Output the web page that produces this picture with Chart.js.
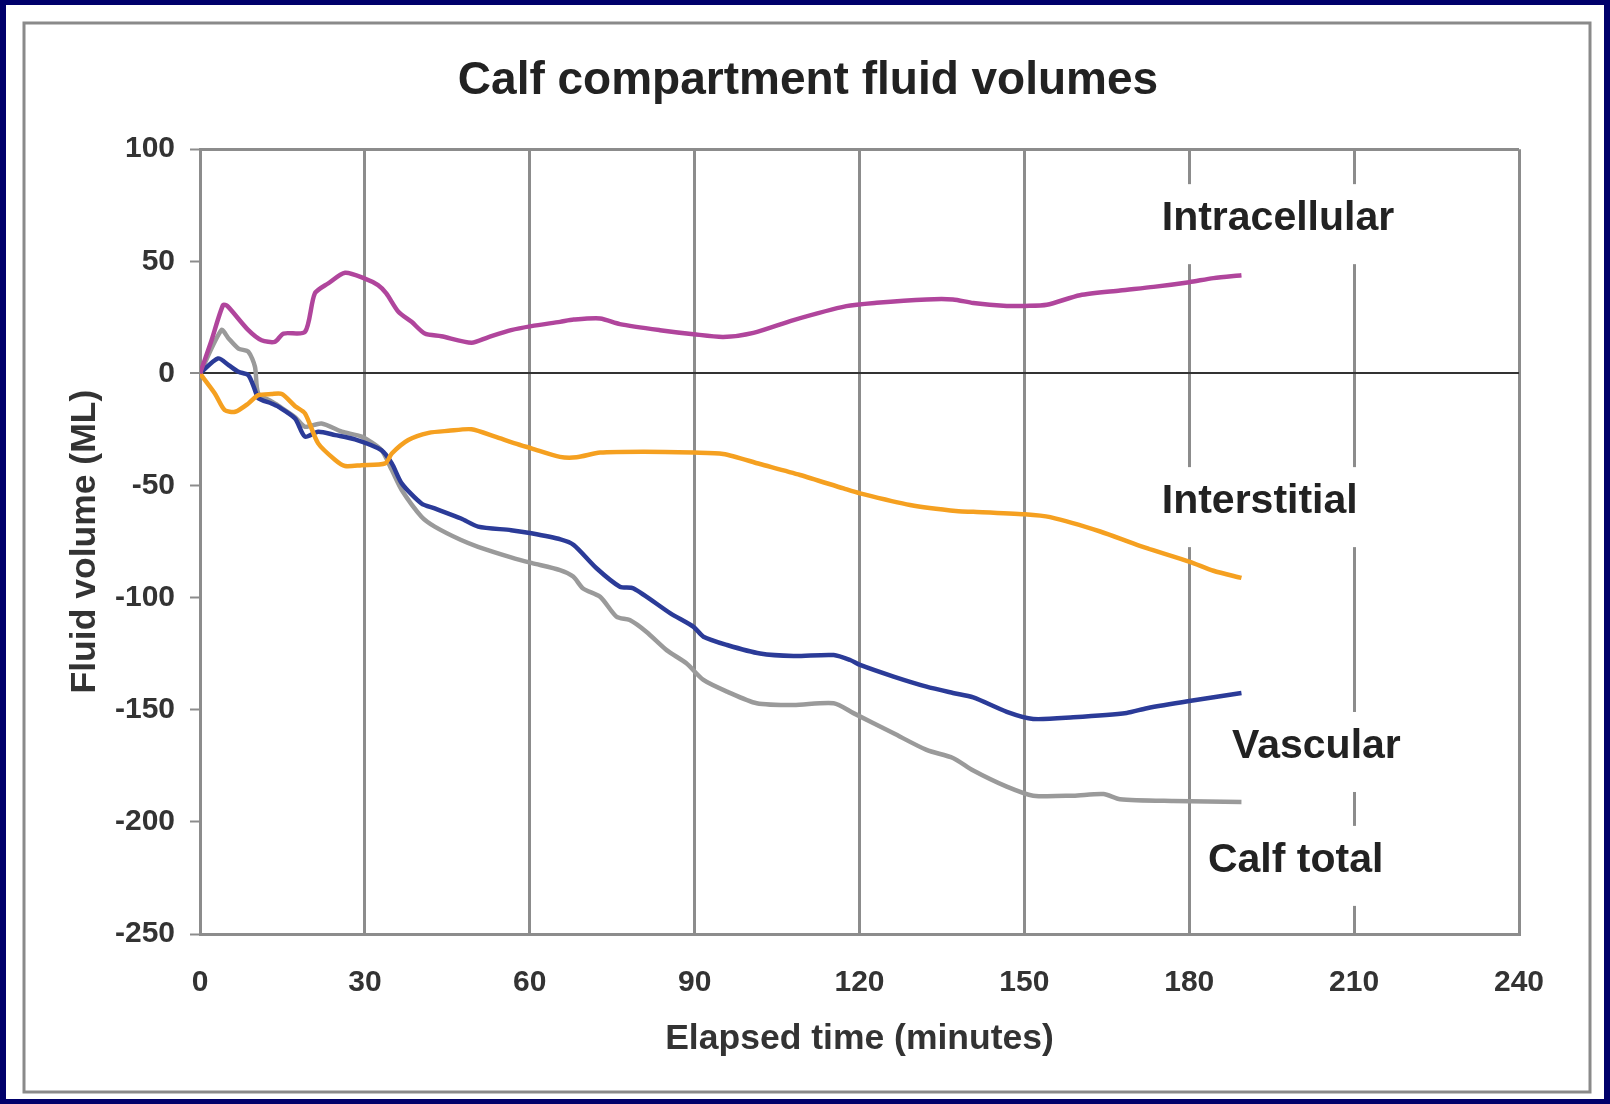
<!DOCTYPE html>
<html>
<head>
<meta charset="utf-8">
<script src="https://cdn.jsdelivr.net/npm/chart.js@4.4.1/dist/chart.umd.min.js"></script>
<style>
  html, body { margin: 0; padding: 0; background: #00006b; overflow: hidden; }
  canvas { display: block; }
</style>
</head>
<body>
<canvas id="myChart" width="1610" height="1104"></canvas>
<script>
const seriesNames = ['Intracellular', 'Interstitial', 'Vascular', 'Calf total'];
const seriesColors = ['#b0459c', '#f5a020', '#2b3b98', '#9a9a9a'];

// elapsed minutes / volume (mL)
const intraTime = [0, 2, 4.2, 5, 8.8, 11.2, 13.6, 15.2, 19.1, 20.9, 23.3, 26.4, 30, 32.4, 33.9, 36.1, 38.5, 40.9, 43.9, 49.4, 52.4, 56.6, 60.3, 65.5, 68, 72.8, 76.4, 83.7, 89.8, 95.2, 100.7, 108, 117.6, 123.1, 132.2, 137, 140.7, 146.8, 150.1, 154.1, 160.1, 167.4, 173.5, 180, 184.4, 189.5];
const intraVol = [0, 14, 30.5, 30, 19.3, 14.8, 14.1, 17.8, 18.5, 35.7, 40.1, 44.9, 42.3, 39.4, 35.7, 27.5, 23, 17.8, 16.6, 13.7, 16.1, 19.3, 21.1, 23, 24, 24.5, 22, 19.3, 17.5, 16.3, 18.1, 23.8, 30, 31.5, 33, 33, 31.4, 30.1, 30.1, 30.6, 34.9, 37, 38.6, 40.7, 42.5, 43.8];

const interTime = [0, 2.7, 4.5, 6.4, 8.8, 10.6, 13, 14.9, 17.3, 19.1, 21.5, 24.6, 26.4, 29.4, 33.7, 34.9, 37.9, 41.6, 45.2, 49.4, 53.7, 57.3, 60.3, 65.5, 68.5, 72.8, 80.7, 89.8, 95.2, 101.9, 109.2, 117.1, 120.1, 129.2, 138, 140.7, 150.1, 154.7, 163.8, 171, 180.1, 184.4, 189.5];
const interVol = [0, -8.9, -16.4, -17.1, -13.4, -9.7, -9.2, -9.2, -14.6, -17.8, -31.2, -38.6, -41.3, -40.9, -40.1, -35.7, -29.7, -26.5, -25.6, -24.9, -28.2, -31.2, -33.4, -37.2, -37.4, -35.3, -34.9, -35.3, -35.9, -40.4, -45.3, -51.3, -53.5, -58.7, -61.5, -61.7, -62.8, -64.1, -70.5, -76.9, -84, -88, -91.2];

const vascTime = [0, 3.3, 5.2, 7, 8.8, 10, 10.6, 13, 14.3, 17.3, 19.1, 21.5, 24.6, 28.2, 33, 34.9, 36.7, 40.3, 42.7, 47.5, 50.6, 56.6, 60.3, 65.6, 68, 72.2, 76.4, 78.9, 85.6, 89.8, 91.6, 95.9, 101.9, 108, 115.3, 118.3, 120.1, 126.2, 132.2, 137, 140.7, 146.8, 151.6, 158.9, 168.6, 172.3, 180, 189.5];
const vascVol = [0, 6.7, 3.7, 0.7, -0.8, -7.4, -11.1, -13.4, -14.9, -20.1, -28.2, -26, -27.5, -29.4, -34.2, -40.1, -49, -58, -60.2, -64.7, -68.3, -69.9, -71.3, -74, -76.5, -87, -95.1, -95.9, -107, -113, -117.4, -121.1, -124.9, -126, -125.6, -127.8, -130, -135.2, -139.7, -142.5, -144.5, -150.9, -154.1, -153.3, -151.4, -149.3, -146.1, -142.5];

const totalTime = [0, 3.9, 5.2, 7, 8.8, 10, 10.6, 13, 14.3, 17.3, 19.1, 22.1, 25.8, 29.4, 33, 34.9, 36.7, 40.3, 42.7, 47.5, 50.6, 56.6, 60.3, 65.5, 67.9, 69.7, 72.8, 75.8, 78.2, 81.2, 84.9, 88.5, 91.6, 95.9, 101.3, 108, 115.3, 118.9, 126.2, 132.2, 137, 140.7, 146.8, 151.6, 158.9, 164.4, 167.4, 177.1, 189.5];
const totalVol = [0, 19.3, 15.6, 11.1, 9.7, 3, -8.9, -12.5, -14.5, -19.5, -23.8, -22.3, -26, -28.2, -34.2, -43.1, -52, -63.9, -68.3, -74.3, -77.3, -82, -84.5, -87.7, -90.6, -95.9, -99.6, -108.5, -110, -115.2, -123.4, -129.3, -136.7, -141.9, -147.1, -147.9, -147.1, -151.5, -160.5, -167.9, -171.5, -177.1, -184.3, -188.3, -188.3, -187.6, -189.9, -190.7, -191.1];

const xTicks = { min: 0, max: 240, step: 30 };
const yTicks = { min: -250, max: 100, step: 50 };

// where each series name sits (text left edge, baseline) in data units
const labelSpots = [
  { x: 175, y: 63.9 },
  { x: 175, y: -62.3 },
  { x: 187.8, y: -171.5 },
  { x: 183.4, y: -222.3 }
];

const FONT = '"Liberation Sans", Arial, sans-serif';
Chart.defaults.font.family = FONT;

const times = [intraTime, interTime, vascTime, totalTime];
const vols = [intraVol, interVol, vascVol, totalVol];

const datasets = seriesNames.map((name, i) => ({
  label: name,
  data: times[i].map((t, k) => ({ x: t, y: vols[i][k] })),
  borderColor: seriesColors[i],
  borderWidth: 4.5,
  pointRadius: 0,
  tension: 0.25,
  fill: false
}));

const framePlugin = {
  id: 'frame',
  beforeDraw(chart) {
    const ctx = chart.ctx;
    ctx.save();
    ctx.fillStyle = '#00006b';
    ctx.fillRect(0, 0, chart.width, chart.height);
    ctx.fillStyle = '#ffffff';
    ctx.fillRect(6, 5, 1598, 1094);
    ctx.strokeStyle = '#8a8a8a';
    ctx.lineWidth = 3;
    ctx.strokeRect(24, 23, 1566, 1069);
    ctx.restore();
  }
};

const namePlugin = {
  id: 'names',
  afterDraw(chart) {
    const ctx = chart.ctx;
    const xs = chart.scales.x, ys = chart.scales.y;
    ctx.save();
    ctx.font = 'bold 41px ' + FONT;
    ctx.textBaseline = 'alphabetic';
    ctx.textAlign = 'left';
    seriesNames.forEach((name, i) => {
      const px = xs.getPixelForValue(labelSpots[i].x);
      const py = ys.getPixelForValue(labelSpots[i].y);
      const w = ctx.measureText(name).width;
      ctx.fillStyle = '#ffffff';
      ctx.fillRect(px - 12, py - 46, w + 24, 80);
      ctx.fillStyle = '#222';
      ctx.fillText(name, px, py);
    });
    ctx.restore();
  }
};

new Chart(document.getElementById('myChart'), {
  type: 'line',
  data: { datasets: datasets },
  options: {
    responsive: false,
    animation: false,
    layout: { padding: { left: 97, right: 91, top: 0, bottom: 0 } },
    plugins: {
      legend: { display: false },
      tooltip: { enabled: false },
      title: {
        display: true,
        text: 'Calf compartment fluid volumes',
        color: '#222',
        font: { size: 46, weight: 'bold' },
        padding: { top: 54, bottom: 40 }
      }
    },
    scales: {
      x: {
        type: 'linear',
        min: xTicks.min,
        max: xTicks.max,
        afterFit: s => { s.height = 170; },
        ticks: { stepSize: xTicks.step, color: '#333', font: { size: 30, weight: 'bold' }, padding: 31 },
        grid: { color: '#8c8c8c', lineWidth: 3, drawTicks: false },
        border: { color: '#8c8c8c', width: 3 },
        title: {
          display: true,
          text: 'Elapsed time (minutes)',
          color: '#333',
          font: { size: 35.5, weight: 'bold' },
          padding: { top: 0, bottom: 43 }
        }
      },
      y: {
        min: yTicks.min,
        max: yTicks.max,
        afterFit: s => { s.width = 103; },
        ticks: { stepSize: yTicks.step, color: '#333', font: { size: 30, weight: 'bold' }, padding: 15 },
        grid: {
          color: c => c.tick.value === 0 ? '#333' : (c.tick.value === yTicks.max ? '#8c8c8c' : 'rgba(0,0,0,0)'),
          lineWidth: c => c.tick.value === 0 ? 2 : 3,
          tickColor: '#8c8c8c',
          tickLength: 10,
          tickWidth: 2
        },
        border: { color: '#8c8c8c', width: 3 },
        title: {
          display: true,
          text: 'Fluid volume (ML)',
          color: '#333',
          font: { size: 35.5, weight: 'bold' },
          padding: { top: -33, bottom: 0 }
        }
      }
    }
  },
  plugins: [framePlugin, namePlugin]
});
</script>
</body>
</html>
